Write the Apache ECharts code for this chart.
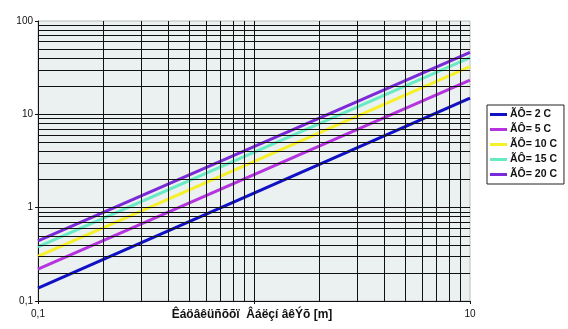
<!DOCTYPE html>
<html>
<head>
<meta charset="utf-8">
<script src="https://cdn.jsdelivr.net/npm/echarts@6/dist/echarts.min.js"></script>
<style>
  html, body { margin: 0; padding: 0; background: #fff; }
  #main { width: 568px; height: 329px; }
</style>
</head>
<body>
<div id="main"></div>
<script>
// x range end points (straight lines on log-log)
const xVals = [0.1, 10]
const seriesNames = ['ÃÔ= 2 C', 'ÃÔ= 5 C', 'ÃÔ= 10 C', 'ÃÔ= 15 C', 'ÃÔ= 20 C']
const dt2 = [0.137, 14.9]
const dt5 = [0.22, 23.3]
const dt10 = [0.30, 32.4]
const dt15 = [0.38, 40.4]
const dt20 = [0.44, 46]
const colors = ['#1010c4', '#b534e0', '#f6f02a', '#68eac4', '#7a2ad8']
const xName = 'Êáöâêüñõõï  Âáëçí âêÝõ [m]'

// grid line positions (log decades + minor lines)
const xGrid = [0.2, 0.3, 0.4, 0.5, 0.6, 0.7, 0.8, 0.9, 1, 2, 3, 4, 5, 6, 7, 8, 9]
const yGrid = [0.2, 0.3, 0.4, 0.5, 0.6, 0.7, 0.8, 0.9, 1, 2, 3, 4, 5, 6, 7, 8, 9, 10,
  20, 30, 40, 50, 60, 70, 80, 90]

const main = echarts.init(document.getElementById('main'))

const lines = [dt2, dt5, dt10, dt15, dt20].map((arr, i) => ({
  name: seriesNames[i],
  type: 'line',
  z: 3,
  symbol: 'none',
  lineStyle: { width: 3, color: colors[i] },
  itemStyle: { color: colors[i] },
  data: xVals.map((x, j) => [x, arr[j]])
}))

const gridLines = {
  type: 'line',
  z: 1,
  data: [],
  silent: true,
  markLine: {
    silent: true,
    symbol: 'none',
    label: { show: false },
    animation: false,
    lineStyle: { color: '#111', width: 1, type: 'solid' },
    data: xGrid.map(v => ({ xAxis: v })).concat(yGrid.map(v => ({ yAxis: v })))
  }
}

const fmt = v => {
  if (Math.abs(v - 1) < 1e-6) return ''
  return String(+v.toPrecision(6)).replace('.', ',')
}

const options = {
  backgroundColor: '#ffffff',
  animation: false,
  textStyle: { fontFamily: 'Liberation Sans, Arial, sans-serif' },
  grid: {
    left: 38, right: 98, top: 21, bottom: 28,
    show: true,
    backgroundColor: '#ebf0f0',
    borderColor: '#b8bcbc',
    borderWidth: 1,
    outerBoundsMode: 'none'
  },
  legend: {
    orient: 'vertical',
    left: 487,
    top: 105,
    data: seriesNames,
    backgroundColor: '#fff',
    borderColor: '#222',
    borderWidth: 1,
    borderRadius: 0,
    padding: [4, 7, 4, 3],
    itemWidth: 17,
    itemHeight: 3,
    itemGap: 4,
    icon: 'rect',
    textStyle: { fontSize: 10.5, fontWeight: 'bold', color: '#111', lineHeight: 11, padding: [0, 0, 0, -2] }
  },
  xAxis: {
    type: 'log',
    logBase: 10,
    min: 0.1,
    max: 10,
    axisLine: { onZero: false, lineStyle: { color: '#111', width: 1 } },
    axisTick: { show: true, length: 3, lineStyle: { color: '#111' } },
    axisLabel: { fontSize: 10, color: '#111', margin: 8, formatter: fmt },
    splitLine: { show: false }
  },
  yAxis: {
    type: 'log',
    logBase: 10,
    min: 0.1,
    max: 100,
    axisLine: { show: true, onZero: false, lineStyle: { color: '#111', width: 1 } },
    axisTick: { show: true, length: 3, lineStyle: { color: '#111' } },
    axisLabel: {
      fontSize: 10, color: '#111', margin: 5,
      formatter: v => String(+v.toPrecision(6)).replace('.', ',')
    },
    splitLine: { show: false }
  },
  series: [gridLines].concat(lines)
}

main.setOption(options)

// x axis title, centred under x = 1 (it covers the "1" label like in the original)
const cx = main.convertToPixel({ xAxisIndex: 0 }, 1)
main.setOption({
  graphic: [{
    type: 'text',
    x: cx - 2,
    y: 309,
    style: {
      text: xName,
      align: 'center',
      fontSize: 12,
      fontWeight: 'bold',
      fill: '#111',
      fontFamily: 'Liberation Sans, Arial, sans-serif'
    }
  }]
})
</script>
</body>
</html>
